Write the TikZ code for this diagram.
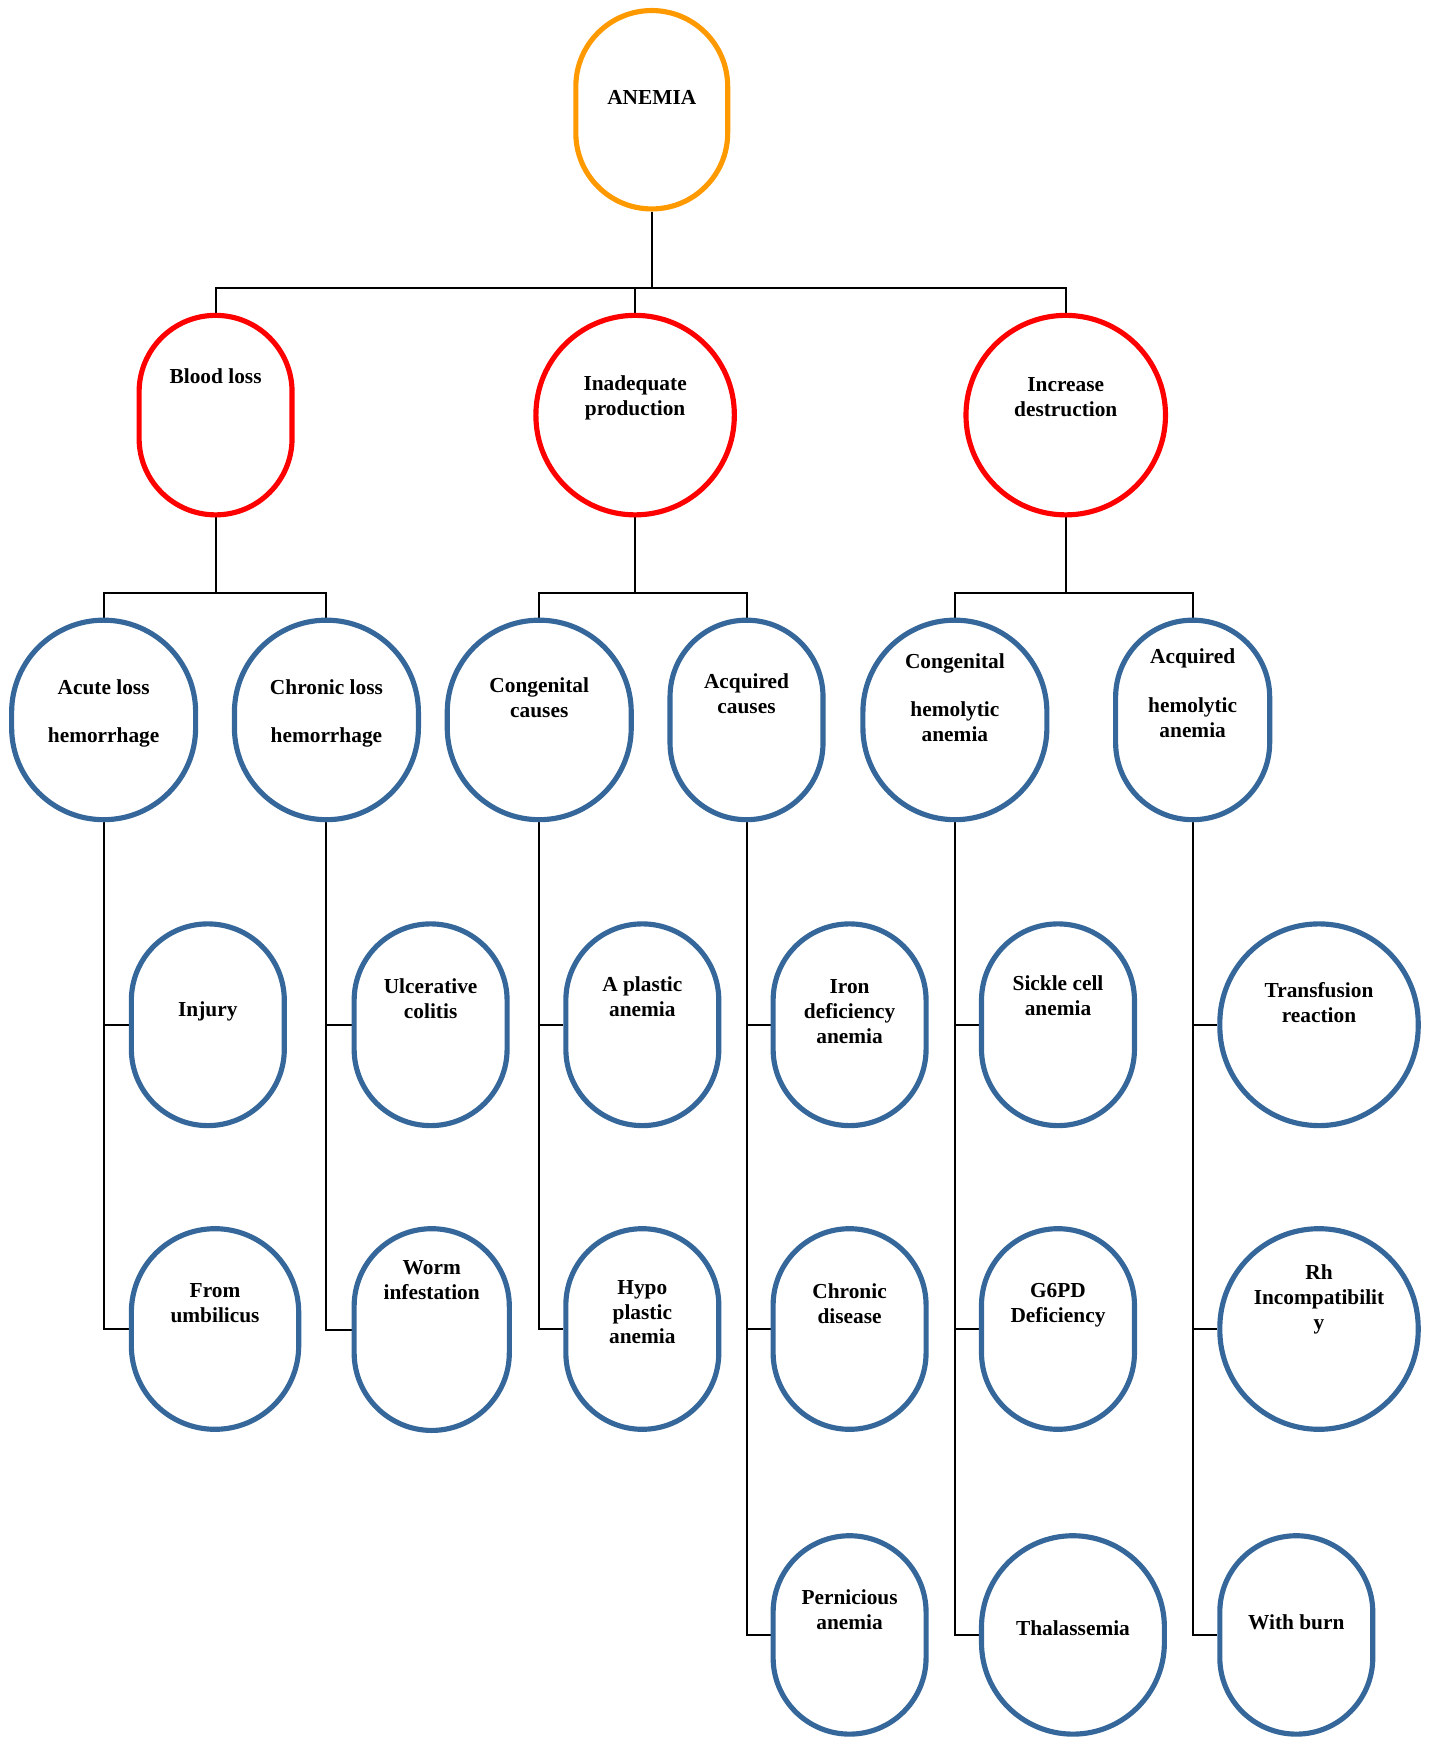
\documentclass[tikz,border=0pt]{standalone}
\usepackage{fontspec}
\setmainfont{Liberation Serif}
\usetikzlibrary{backgrounds}
\definecolor{rootorange}{HTML}{FF9900}
\definecolor{causered}{HTML}{FF0000}
\definecolor{typeblue}{HTML}{35679A}

\begin{document}
\begin{tikzpicture}[x=0.025cm,y=-0.025cm,
  every node/.style={font=\fontsize{13.7}{16}\selectfont\bfseries},
  pill/.style 2 args={draw,line width=3.3pt,inner sep=0pt,
    minimum width=(#1-3)*0.025cm,minimum height=(#2-3)*0.025cm,
    rounded corners=(#1-3)*0.0125cm},
  root/.style={draw=rootorange},
  cause/.style={draw=causered},
  kind/.style={draw=typeblue},
  txt/.style={align=center,inner sep=0pt},
  link/.style={line width=1.3pt}]
  \useasboundingbox (0,0) rectangle (1291,1568);

  % top
  \node[pill={140}{182},root,label={[txt,yshift=0.28cm]center:ANEMIA}] (anemia) at (588,99) {};

  % causes
  \node[pill={141}{183},cause,label={[txt,yshift=0.88cm]center:Blood loss}] (blood) at (194.5,374.5) {};
  \node[pill={182}{183},cause,label={[txt,yshift=0.38cm]center:Inadequate\\production}] (inad) at (573,374.5) {};
  \node[pill={183}{183},cause,label={[txt,yshift=0.4cm]center:Increase\\destruction}] (incr) at (961.5,374.5) {};

  % types
  \node[pill={169}{183},kind,label={[txt,yshift=0.14cm]center:Acute loss\\[15pt]hemorrhage}] (acute) at (93.5,649.5) {};
  \node[pill={169}{183},kind,label={[txt,yshift=0.14cm]center:Chronic loss\\[15pt]hemorrhage}] (chron) at (294.5,649.5) {};
  \node[pill={169}{183},kind,label={[txt,yshift=0.5cm]center:Congenital\\causes}] (cong) at (486.5,649.5) {};
  \node[pill={141}{183},kind,label={[txt,yshift=0.6cm]center:Acquired\\causes}] (acq) at (673.5,649.5) {};
  \node[pill={169}{183},kind,label={[txt,yshift=0.5cm]center:Congenital\\[15pt]hemolytic\\anemia}] (conghem) at (861.5,649.5) {};
  \node[pill={142}{183},kind,label={[txt,yshift=0.6cm]center:Acquired\\[15pt]hemolytic\\anemia}] (acqhem) at (1076,649.5) {};

  % first row of examples
  \node[pill={141}{185},kind,label={[txt,yshift=0.3cm]center:Injury}] (injury) at (187.5,924.5) {};
  \node[pill={141}{185},kind,label={[txt,yshift=0.58cm]center:Ulcerative\\colitis}] (ulcer) at (388.5,924.5) {};
  \node[pill={141}{185},kind,label={[txt,yshift=0.63cm]center:A plastic\\anemia}] (aplast) at (579.5,924.5) {};
  \node[pill={141}{185},kind,label={[txt,yshift=0.3cm]center:Iron\\deficiency\\anemia}] (iron) at (766.5,924.5) {};
  \node[pill={141}{185},kind,label={[txt,yshift=0.65cm]center:Sickle cell\\anemia}] (sickle) at (954.5,924.5) {};
  \node[pill={182}{185},kind,label={[txt,yshift=0.5cm]center:Transfusion\\reaction}] (transf) at (1190,924.5) {};

  % second row of examples
  \node[pill={154}{184},kind,label={[txt,yshift=0.59cm]center:From\\umbilicus}] (umbil) at (194,1199) {};
  \node[pill={143}{185},kind,label={[txt,yshift=1.11cm]center:Worm\\infestation}] (worm) at (389.5,1199.5) {};
  \node[pill={141}{184},kind,label={[txt,yshift=0.38cm]center:Hypo\\plastic\\anemia}] (hypo) at (579.5,1199) {};
  \node[pill={141}{184},kind,label={[txt,yshift=0.57cm]center:Chronic\\disease}] (chrdis) at (766.5,1199) {};
  \node[pill={141}{184},kind,label={[txt,yshift=0.53cm]center:G6PD\\Deficiency}] (gsixpd) at (954.5,1199) {};
  \node[pill={182}{184},kind,label={[txt,yshift=0.66cm]center:Rh\\Incompatibilit\\y}] (rh) at (1190,1199) {};

  % third row of examples
  \node[pill={141}{182},kind,label={[txt,yshift=0.57cm]center:Pernicious\\anemia}] (pern) at (766.5,1475) {};
  \node[pill={168}{182},kind,label={[txt,yshift=0.16cm]center:Thalassemia}] (thal) at (968,1475) {};
  \node[pill={141}{182},kind,label={[txt,yshift=0.28cm]center:With burn}] (burn) at (1169.5,1475) {};

  \coordinate (jtop) at (588,260);
  \coordinate (jblood) at (194.5,535);
  \coordinate (jinad) at (573,535);
  \coordinate (jincr) at (961.5,535);

  \begin{scope}[on background layer]
    \draw[link] (anemia.south) -- (jtop);
    \draw[link] (jtop) -| (blood.north);
    \draw[link] (jtop) -| (incr.north);
    \draw[link] (inad.north) -- (inad.north |- jtop);

    \draw[link] (blood.south) -- (jblood);
    \draw[link] (jblood) -| (acute.north);
    \draw[link] (jblood) -| (chron.north);
    \draw[link] (inad.south) -- (jinad);
    \draw[link] (jinad) -| (cong.north);
    \draw[link] (jinad) -| (acq.north);
    \draw[link] (incr.south) -- (jincr);
    \draw[link] (jincr) -| (conghem.north);
    \draw[link] (jincr) -| (acqhem.north);

    \draw[link] (acute.south) |- (injury.west);
    \draw[link] (acute.south) |- (umbil.west);
    \draw[link] (chron.south) |- (ulcer.west);
    \draw[link] (chron.south) |- (worm.west);
    \draw[link] (cong.south) |- (aplast.west);
    \draw[link] (cong.south) |- (hypo.west);
    \draw[link] (acq.south) |- (iron.west);
    \draw[link] (acq.south) |- (chrdis.west);
    \draw[link] (acq.south) |- (pern.west);
    \draw[link] (conghem.south) |- (sickle.west);
    \draw[link] (conghem.south) |- (gsixpd.west);
    \draw[link] (conghem.south) |- (thal.west);
    \draw[link] (acqhem.south) |- (transf.west);
    \draw[link] (acqhem.south) |- (rh.west);
    \draw[link] (acqhem.south) |- (burn.west);
  \end{scope}
\end{tikzpicture}
\end{document}
